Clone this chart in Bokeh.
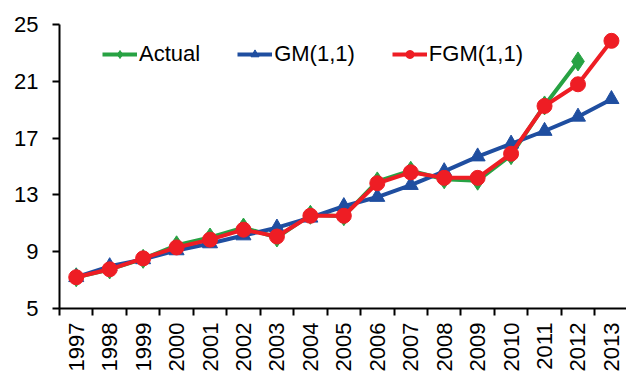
from bokeh.plotting import figure
from bokeh.models import Range1d, FixedTicker, Legend, LegendItem
from bokeh.embed import file_html
from bokeh.resources import INLINE
import math

years = list(range(1997, 2014))
tick_labels = [str(y) for y in years]
actual = [7.2, 7.75, 8.5, 9.45, 10.0, 10.7, 10.0, 11.6, 11.5, 13.95, 14.7, 14.1, 14.0, 15.8, 19.3, 22.4]
gm = [7.2, 7.97, 8.46, 9.09, 9.58, 10.14, 10.69, 11.39, 12.2, 12.85, 13.69, 14.66, 15.7, 16.6, 17.5, 18.5, 19.74]
fgm = [7.2, 7.76, 8.53, 9.3, 9.85, 10.55, 10.07, 11.53, 11.53, 13.82, 14.59, 14.2, 14.2, 15.9, 19.26, 20.79, 23.85]
y_ticks = [5, 9, 13, 17, 21, 25]

GREEN = "#27A243"
BLUE = "#1F4EA0"
RED = "#EE1D24"
FONT = "Liberation Sans"
FS = "22px"

p = figure(width=626, height=374, output_backend="svg", toolbar_location=None,
           x_range=Range1d(1996.5, 2013.45), y_range=Range1d(5, 25),
           min_border_left=59, min_border_top=24, min_border_right=0, min_border_bottom=0)
p.outline_line_color = None
p.xgrid.visible = False
p.ygrid.visible = False
p.background_fill_color = "white"

ga_l = p.line(years[:len(actual)], actual, line_color=GREEN, line_width=4)
ga_m = p.scatter(years[:len(actual)], actual, marker="diamond", size=19, fill_color=GREEN, line_color=GREEN)
gb_l = p.line(years, gm, line_color=BLUE, line_width=4)
gb_m = p.scatter(years, gm, marker="triangle", size=15, fill_color=BLUE, line_color=BLUE)
gr_l = p.line(years, fgm, line_color=RED, line_width=4)
gr_m = p.scatter(years, fgm, marker="circle", size=15, fill_color=RED, line_color=RED)

# x axis: labels at year centers, ticks at boundaries
xa = p.xaxis[0]
xa.ticker = FixedTicker(ticks=years, minor_ticks=[y - 0.5 for y in years])
xa.major_label_overrides = {y: s for y, s in zip(years, tick_labels)}
xa.major_tick_out = 0
xa.major_tick_in = 0
xa.minor_tick_out = 7
xa.minor_tick_in = 0
xa.minor_tick_line_width = 2
xa.minor_tick_line_color = "black"
xa.axis_line_width = 2
xa.axis_line_color = "black"
xa.major_label_orientation = math.pi / 2
xa.major_label_text_font = FONT
xa.major_label_text_font_size = FS
xa.major_label_text_color = "black"
xa.major_label_standoff = 7

ya = p.yaxis[0]
ya.ticker = FixedTicker(ticks=y_ticks)
ya.minor_tick_line_color = None
ya.major_tick_out = 7
ya.major_tick_in = 0
ya.major_tick_line_width = 2
ya.major_tick_line_color = "black"
ya.axis_line_width = 2
ya.axis_line_color = "black"
ya.major_label_text_font = FONT
ya.major_label_text_font_size = FS
ya.major_label_text_color = "black"
ya.major_label_standoff = 14

legend = Legend(items=[
    LegendItem(label="Actual", renderers=[ga_l, ga_m]),
    LegendItem(label="GM(1,1)", renderers=[gb_l, gb_m]),
    LegendItem(label="FGM(1,1)", renderers=[gr_l, gr_m]),
], orientation="horizontal", location=(43, 241))
legend.border_line_alpha = 0
legend.background_fill_alpha = 0
legend.padding = 0
legend.margin = 0
legend.spacing = 37
legend.glyph_width = 35
legend.glyph_height = 20
legend.label_height = 20
legend.label_standoff = 2
legend.label_text_font = FONT
legend.label_text_font_size = FS
legend.label_text_color = "black"
p.add_layout(legend, "center")

open("out.html", "w").write(file_html(p, INLINE))
